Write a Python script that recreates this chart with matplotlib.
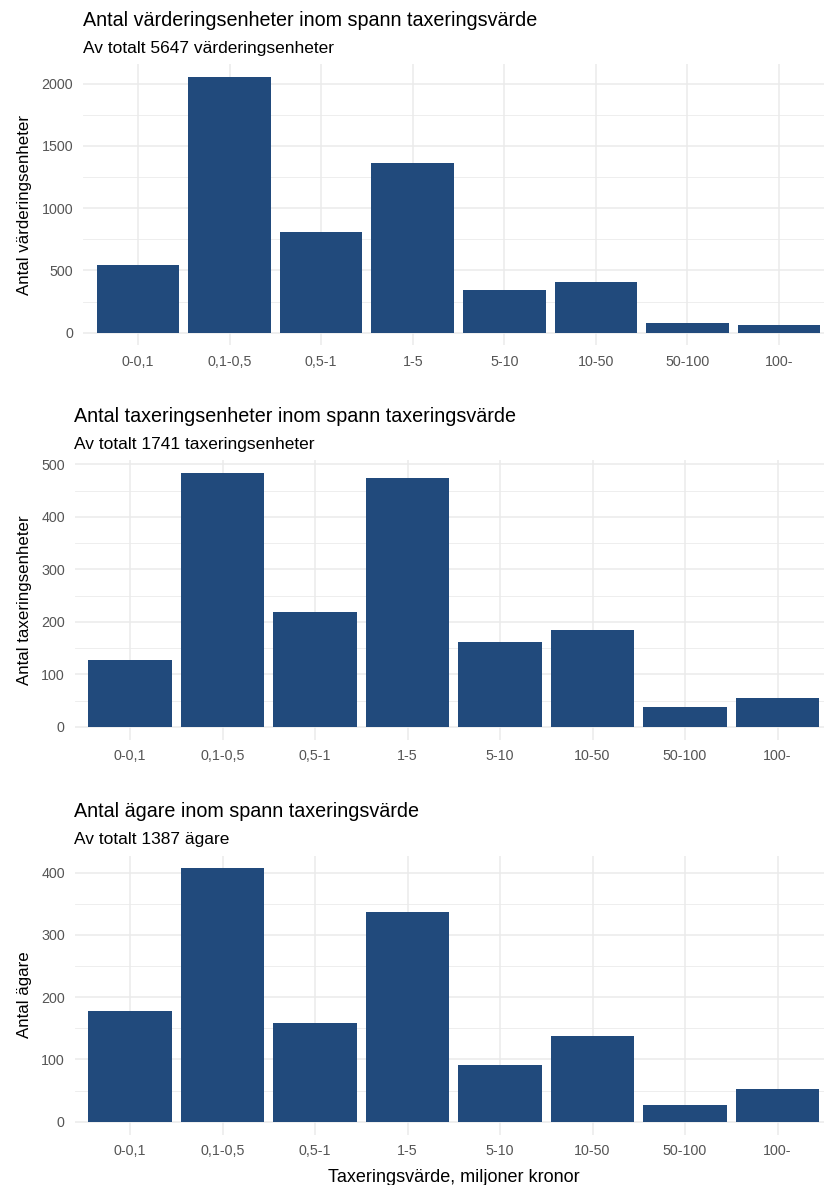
import numpy as np
import matplotlib
matplotlib.use("Agg")
import matplotlib.pyplot as plt
from matplotlib.ticker import MultipleLocator

plt.rcParams['font.family'] = ['Liberation Sans', 'DejaVu Sans']

categories = ['0-0,1', '0,1-0,5', '0,5-1', '1-5', '5-10', '10-50', '50-100', '100-']
varderingsenheter = [540, 2055, 805, 1360, 345, 405, 75, 62]
taxeringsenheter = [128, 484, 218, 474, 161, 184, 37, 55]
agare = [178, 407, 159, 336, 91, 137, 27, 52]

titles = ['Antal värderingsenheter inom spann taxeringsvärde',
          'Antal taxeringsenheter inom spann taxeringsvärde',
          'Antal ägare inom spann taxeringsvärde']
subtitles = ['Av totalt 5647 värderingsenheter',
             'Av totalt 1741 taxeringsenheter',
             'Av totalt 1387 ägare']
ylabels = ['Antal värderingsenheter', 'Antal taxeringsenheter', 'Antal ägare']
series = [varderingsenheter, taxeringsenheter, agare]
steps = [500, 100, 100]

W, H = 824, 1185
fig = plt.figure(figsize=(W / 100, H / 100), dpi=100)
bar_color = '#214a7c'
grid_color = '#ebebeb'

# panel boxes in pixels: left, top, right, bottom
boxes = [(83, 64, 834, 345.5), (74.5, 460, 833, 739.5), (74.5, 855.5, 833, 1134.5)]

for i, (vals, box) in enumerate(zip(series, boxes)):
    l, t, r, b = box
    ax = fig.add_axes([l / W, 1 - b / H, (r - l) / W, (b - t) / H])
    x = np.arange(1, len(categories) + 1)
    ymax = max(vals)
    ax.bar(x, vals, width=0.9, color=bar_color, zorder=2)
    ax.set_xlim(0.4, len(categories) + 0.6)
    ax.set_ylim(-0.05 * ymax, 1.05 * ymax)
    ax.set_xticks(x)
    ax.set_xticklabels(categories)
    ax.yaxis.set_major_locator(MultipleLocator(steps[i]))
    ax.yaxis.set_minor_locator(MultipleLocator(steps[i] / 2))
    ax.grid(True, which='major', color=grid_color, linewidth=1.1, zorder=0)
    ax.grid(True, which='minor', axis='y', color=grid_color, linewidth=0.6, zorder=0)
    ax.set_axisbelow(True)
    for s in ax.spines.values():
        s.set_visible(False)
    ax.tick_params(which='both', length=0, labelsize=10.3, labelcolor='#555555')
    ax.tick_params(axis='y', pad=7)
    ax.tick_params(axis='x', pad=7)
    ax.set_ylabel(ylabels[i], fontsize=12.2, color='black')
    ax.yaxis.set_label_coords((32 - l) / (r - l), 0.5)
    ax.text(0, 1 + 44 / (b - t), titles[i], transform=ax.transAxes,
            fontsize=14.2, ha='left', va='center')
    ax.text(0, 1 + 16 / (b - t), subtitles[i], transform=ax.transAxes,
            fontsize=12.5, ha='left', va='center')
    if i == 2:
        ax.set_xlabel('Taxeringsvärde, miljoner kronor', fontsize=13, labelpad=8)

fig.savefig('out.png', dpi=100, facecolor='white')
